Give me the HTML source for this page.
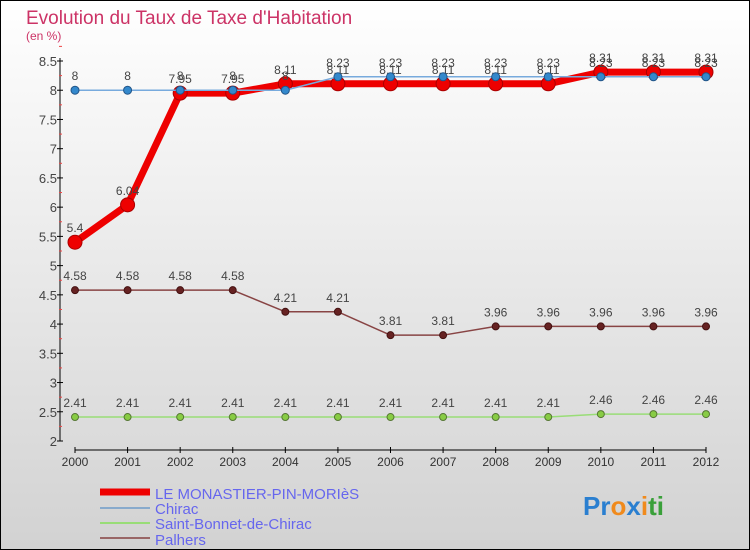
<!DOCTYPE html>
<html><head><meta charset="utf-8"><style>
body{margin:0;width:750px;height:550px;overflow:hidden;font-family:"Liberation Sans",sans-serif}
svg{display:block}
</style></head><body>
<svg id="chart" width="750" height="550" xmlns="http://www.w3.org/2000/svg">
<defs><linearGradient id="bg" x1="0" y1="0" x2="0" y2="1"><stop offset="0" stop-color="#ffffff"/><stop offset="1" stop-color="#d2d2d2"/></linearGradient></defs>
<rect x="0.5" y="0.5" width="749" height="549" fill="url(#bg)" stroke="#000"/>
<text x="26" y="24" font-size="19" fill="#cc3366">Evolution du Taux de Taxe d'Habitation</text>
<text x="26" y="40" font-size="12" fill="#cc3366">(en %)</text>
<g id="axes"></g><g id="series"></g>
<g>
<line x1="100" y1="492" x2="150" y2="492" stroke="#ee0000" stroke-width="7"/>
<text x="155" y="499" font-size="15" fill="#6666ee">LE MONASTIER-PIN-MORIèS</text>
<line x1="100" y1="508" x2="150" y2="508" stroke="#88aacc" stroke-width="2"/>
<text x="155" y="514" font-size="15" fill="#6666ee">Chirac</text>
<line x1="100" y1="523" x2="150" y2="523" stroke="#99dd77" stroke-width="2"/>
<text x="155" y="529" font-size="15" fill="#6666ee">Saint-Bonnet-de-Chirac</text>
<line x1="100" y1="538" x2="150" y2="538" stroke="#996666" stroke-width="2"/>
<text x="155" y="545" font-size="15" fill="#6666ee">Palhers</text>
</g>
<text x="583" y="515" font-size="26" font-weight="bold"><tspan fill="#2a7fd0">Pr</tspan><tspan fill="#f08a1c">o</tspan><tspan fill="#2a7fd0">x</tspan><tspan fill="#f08a1c">i</tspan><tspan fill="#3aa03a">ti</tspan></text>
</svg>
<script>
const years=[2000,2001,2002,2003,2004,2005,2006,2007,2008,2009,2010,2011,2012];
const yTicks=[2,2.5,3,3.5,4,4.5,5,5.5,6,6.5,7,7.5,8,8.5];
const monastier=[5.4,6.04,7.95,7.95,8.11,8.11,8.11,8.11,8.11,8.11,8.31,8.31,8.31];
const chirac=[8,8,8,8,8,8.23,8.23,8.23,8.23,8.23,8.23,8.23,8.23];
const saintBonnet=[2.41,2.41,2.41,2.41,2.41,2.41,2.41,2.41,2.41,2.41,2.46,2.46,2.46];
const palhers=[4.58,4.58,4.58,4.58,4.21,4.21,3.81,3.81,3.96,3.96,3.96,3.96,3.96];
const NS='http://www.w3.org/2000/svg';
const xs=i=>75+i*(706-75)/(years.length-1);
const ys=v=>441-(v-2)*(441-61)/6.5;
function mk(tag,at,parent){const e=document.createElementNS(NS,tag);for(const k in at)e.setAttribute(k,at[k]);parent.appendChild(e);return e;}
const ax=document.getElementById('axes');
let l=mk('line',{x1:60,y1:58,x2:60,y2:441,stroke:'#000'},ax);


l=mk('line',{x1:75,y1:450,x2:706,y2:450,stroke:'#000'},ax);


yTicks.forEach(v=>{const y=ys(v);
 mk('line',{x1:57,y1:y,x2:63,y2:y,stroke:'#000'},ax);
 mk('line',{x1:59,y1:ys(v+0.25),x2:62,y2:ys(v+0.25),stroke:'#e44'},ax);
 const t=mk('text',{x:57,y:y+5,'font-size':13,fill:'#444','text-anchor':'end'},ax);t.textContent=v;
 
 });
years.forEach((yr,i)=>{const x=xs(i);
 mk('line',{x1:x,y1:447,x2:x,y2:453,stroke:'#000'},ax);
 const t=mk('text',{x:x,y:466,'font-size':12,fill:'#333','text-anchor':'middle'},ax);t.textContent=yr;
 
 });
const sg=document.getElementById('series');
function series(data,name,color,w,r,dot,dotStroke){
 const g=mk('g',{},sg);
 
 
 const pl=mk('polyline',{points:data.map((v,i)=>xs(i)+','+ys(v)).join(' '),fill:'none',stroke:color,'stroke-width':w,'stroke-linejoin':'round'},g);
 
 
 data.forEach((v,i)=>{const c=mk('circle',{cx:xs(i),cy:ys(v),r:r,fill:dot,stroke:dotStroke,'stroke-width':1},g);
  
  
  const t=mk('text',{x:xs(i),y:ys(v)-10,'font-size':12,fill:'#444','text-anchor':'middle'},g);t.textContent=v;
  
  });
}
series(saintBonnet,'saint-bonnet','#99dd77',1.5,3.5,'#88cc44','#557733');
series(palhers,'palhers','#884444',1.5,3.5,'#662222','#441111');
series(monastier,'monastier','#ee0000',7,7,'#ee0000','#aa0000');
series(chirac,'chirac','#77aadd',1.5,4,'#3388cc','#225588');
</script>
</body></html>
